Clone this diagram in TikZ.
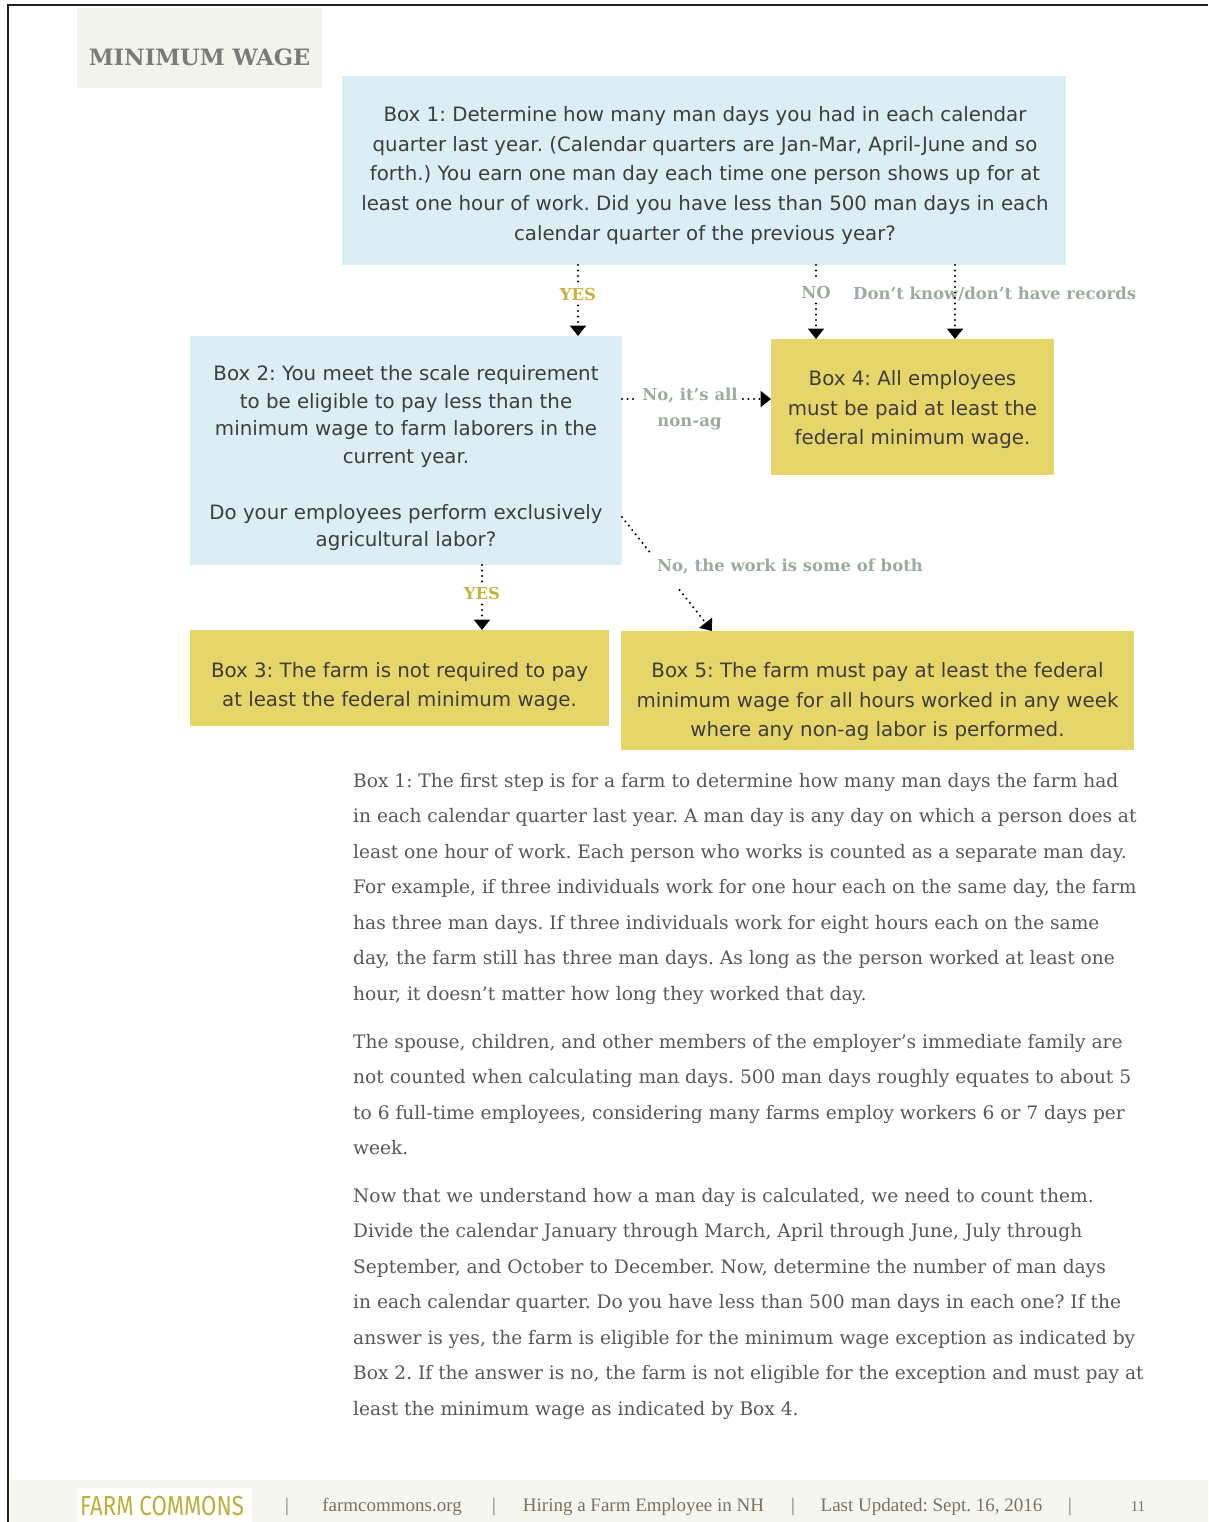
\documentclass[tikz,border=0pt]{standalone}
\usepackage{fontspec}
\usepackage{graphicx}
\setmainfont{DejaVu Serif}
\newfontfamily\boxfont{DejaVu Sans}
\newfontfamily\footfont{Liberation Serif}
\newfontfamily\brandfont{Fira Sans}
\usetikzlibrary{arrows.meta,calc}
\frenchspacing
\definecolor{bluebox}{HTML}{DAEEF3}
\definecolor{yelbox}{HTML}{E6D66A}
\definecolor{headbg}{HTML}{F2F3EA}
\definecolor{footbg}{HTML}{F6F6F0}
\definecolor{headtxt}{HTML}{7B7979}
\definecolor{boxtxt}{HTML}{3D3D3D}
\definecolor{yeslbl}{HTML}{C4B43A}
\definecolor{nolbl}{HTML}{9DAA9F}
\definecolor{bodytxt}{HTML}{58585A}
\definecolor{foottxt}{HTML}{77735E}
\definecolor{brand}{HTML}{BDB035}
\definecolor{framecol}{HTML}{231F20}
\tikzset{
  panel/.style={inner sep=0pt, outer sep=0pt, draw=none},
  bluepanel/.style={panel, fill=bluebox},
  yelpanel/.style={panel, fill=yelbox},
  boxline/.style={anchor=base, inner sep=0pt, text=boxtxt, font=\boxfont\fontsize{19.8}{23}\selectfont},
  lbl/.style={anchor=base, inner sep=5pt, font=\bfseries\fontsize{16.5}{20}\selectfont},
  yeslabel/.style={lbl, text=yeslbl},
  nolabel/.style={lbl, text=nolbl},
  dotflow/.style={line width=2.3pt, line cap=round, dash pattern=on 0pt off 5.5pt, draw=black},
  arrowtip/.style={-{Triangle[width=16pt,length=10.5pt]}},
  bodyline/.style={anchor=base west, inner sep=0pt, text=bodytxt, font=\fontsize{18.6}{22}\selectfont},
  footline/.style={anchor=base, inner sep=0pt, text=foottxt, font=\footfont\fontsize{19}{22}\selectfont},
}
\begin{document}
\begin{tikzpicture}[x=1pt, y=-1pt]
\useasboundingbox (0,0) rectangle (1208,1522);
% frame
\draw[framecol, line width=2.5pt] (8,1522) -- (8,5) -- (1208,5);
% header
\node[panel, fill=headbg, minimum width=245pt, minimum height=80pt] (head) at (199.5,48) {};
\node[anchor=base, inner sep=0pt, text=headtxt, font=\bfseries\fontsize{22.5}{26}\selectfont] (headt) at (199.5,66) {MINIMUM WAGE};
% boxes
\node[bluepanel, minimum width=724pt, minimum height=189pt] (box1) at (704,170.5) {};
\node[bluepanel, minimum width=432pt, minimum height=229pt] (box2) at (406,450.5) {};
\node[yelpanel, minimum width=283pt, minimum height=136pt] (box4) at (912.5,407) {};
\node[yelpanel, minimum width=419pt, minimum height=96pt] (box3) at (399.5,678) {};
\node[yelpanel, minimum width=513pt, minimum height=119pt] (box5) at (877.5,690.5) {};
% box 1 text
\node[boxline] (b1a) at (705,121.5) {Box 1: Determine how many man days you had in each calendar};
\node[boxline] (b1b) at (705,151.25) {quarter last year. (Calendar quarters are Jan-Mar, April-June and so};
\node[boxline] (b1c) at (705,181) {forth.) You earn one man day each time one person shows up for at};
\node[boxline] (b1d) at (705,210.75) {least one hour of work. Did you have less than 500 man days in each};
\node[boxline] (b1e) at (705,240.5) {calendar quarter of the previous year?};
% box 2 text
\node[boxline] (b2a) at (406,380.5) {Box 2: You meet the scale requirement};
\node[boxline] (b2b) at (406,408.2) {to be eligible to pay less than the};
\node[boxline] (b2c) at (406,435.9) {minimum wage to farm laborers in the};
\node[boxline] (b2d) at (406,463.6) {current year.};
\node[boxline] (b2e) at (406,519) {Do your employees perform exclusively};
\node[boxline] (b2f) at (406,546.7) {agricultural labor?};
% box 4 text
\node[boxline] (b4a) at (912.5,385.5) {Box 4: All employees};
\node[boxline] (b4b) at (912.5,415) {must be paid at least the};
\node[boxline] (b4c) at (912.5,444.5) {federal minimum wage.};
% box 3 text
\node[boxline] (b3a) at (399.5,677.5) {Box 3: The farm is not required to pay};
\node[boxline] (b3b) at (399.5,706.5) {at least the federal minimum wage.};
% box 5 text
\node[boxline] (b5a) at (877.5,677.5) {Box 5: The farm must pay at least the federal};
\node[boxline] (b5b) at (877.5,707) {minimum wage for all hours worked in any week};
\node[boxline] (b5c) at (877.5,736.5) {where any non-ag labor is performed.};
% labels
\node[yeslabel] (yes1) at (578,300) {YES};
\node[nolabel] (no1) at (816,298) {NO};
\node[nolabel, anchor=base west, inner sep=0pt] (dk) at (853,299) {Don’t know/don’t have records};
\node[nolabel] (allag) at (690,400) {No, it’s all};
\node[nolabel] (nonag) at (689.5,426) {non-ag};
\node[nolabel] (both) at (790,571.5) {No, the work is some of both};
\node[yeslabel] (yes2) at (482,599) {YES};
% connectors
\draw[dotflow] (box1.south -| yes1) -- (yes1.north);
\draw[dotflow, arrowtip] (yes1.south) -- (box2.north -| yes1);
\draw[dotflow] (box1.south -| no1) -- (no1.north);
\draw[dotflow, arrowtip] (no1.south) -- (box4.north -| no1);
\coordinate (dkx) at (955,300);
\draw[dotflow, arrowtip] (box1.south -| dkx) -- (box4.north -| dkx);
\coordinate (hy) at (700,399);
\draw[dotflow] (box2.east |- hy) -- (allag.west |- hy);
\draw[dotflow, arrowtip] (allag.east |- hy) -- (box4.west |- hy);
\coordinate (ds) at ([yshift=48pt]box2.south east);
\coordinate (de) at ([xshift=91pt]box5.north west);
\draw[dotflow] (ds) -- ($(ds)!0.34!(de)$);
\draw[dotflow, arrowtip] ($(ds)!0.64!(de)$) -- (de);
\draw[dotflow] (box2.south -| yes2) -- (yes2.north);
\draw[dotflow, arrowtip] (yes2.south) -- (box3.north -| yes2);
% body text
\foreach \txt [count=\i from 0] in {
 {Box 1: The first step is for a farm to determine how many man days the farm had},
 {in each calendar quarter last year. A man day is any day on which a person does at},
 {least one hour of work. Each person who works is counted as a separate man day.},
 {For example, if three individuals work for one hour each on the same day, the farm},
 {has three man days. If three individuals work for eight hours each on the same},
 {day, the farm still has three man days. As long as the person worked at least one},
 {hour, it doesn’t matter how long they worked that day.}}
 \node[bodyline] (pa\i) at (353,{787+35.5*\i}) {\txt};
\foreach \txt [count=\i from 0] in {
 {The spouse, children, and other members of the employer’s immediate family are},
 {not counted when calculating man days. 500 man days roughly equates to about 5},
 {to 6 full-time employees, considering many farms employ workers 6 or 7 days per},
 {week.}}
 \node[bodyline] (pb\i) at (353,{1048+35.5*\i}) {\txt};
\foreach \txt [count=\i from 0] in {
 {Now that we understand how a man day is calculated, we need to count them.},
 {Divide the calendar January through March, April through June, July through},
 {September, and October to December. Now, determine the number of man days},
 {in each calendar quarter. Do you have less than 500 man days in each one? If the},
 {answer is yes, the farm is eligible for the minimum wage exception as indicated by},
 {Box 2. If the answer is no, the farm is not eligible for the exception and must pay at},
 {least the minimum wage as indicated by Box 4.}}
 \node[bodyline] (pc\i) at (353,{1202+35.5*\i}) {\txt};
% footer
\fill[footbg] (10,1480) rectangle (1208,1522);
\node[panel, fill=white, minimum width=175pt, minimum height=34pt, anchor=north west] (brandbg) at (77,1488) {};
\node[anchor=base west, inner sep=0pt, text=brand] (brandt) at (80,1515) {\scalebox{0.81}[1]{\brandfont\fontsize{27.5}{30}\selectfont FARM COMMONS}};
\node[footline] (s1) at (287,1511) {|};
\node[footline] (f1) at (392,1511) {farmcommons.org};
\node[footline] (s2) at (494,1511) {|};
\node[footline] (f2) at (643.5,1511) {Hiring a Farm Employee in NH};
\node[footline] (s3) at (793,1511) {|};
\node[footline] (f3) at (931.5,1511) {Last Updated: Sept. 16, 2016};
\node[footline] (s4) at (1070,1511) {|};
\node[footline, font=\footfont\fontsize{15}{18}\selectfont] (f4) at (1138,1511) {11};
\end{tikzpicture}
\end{document}
